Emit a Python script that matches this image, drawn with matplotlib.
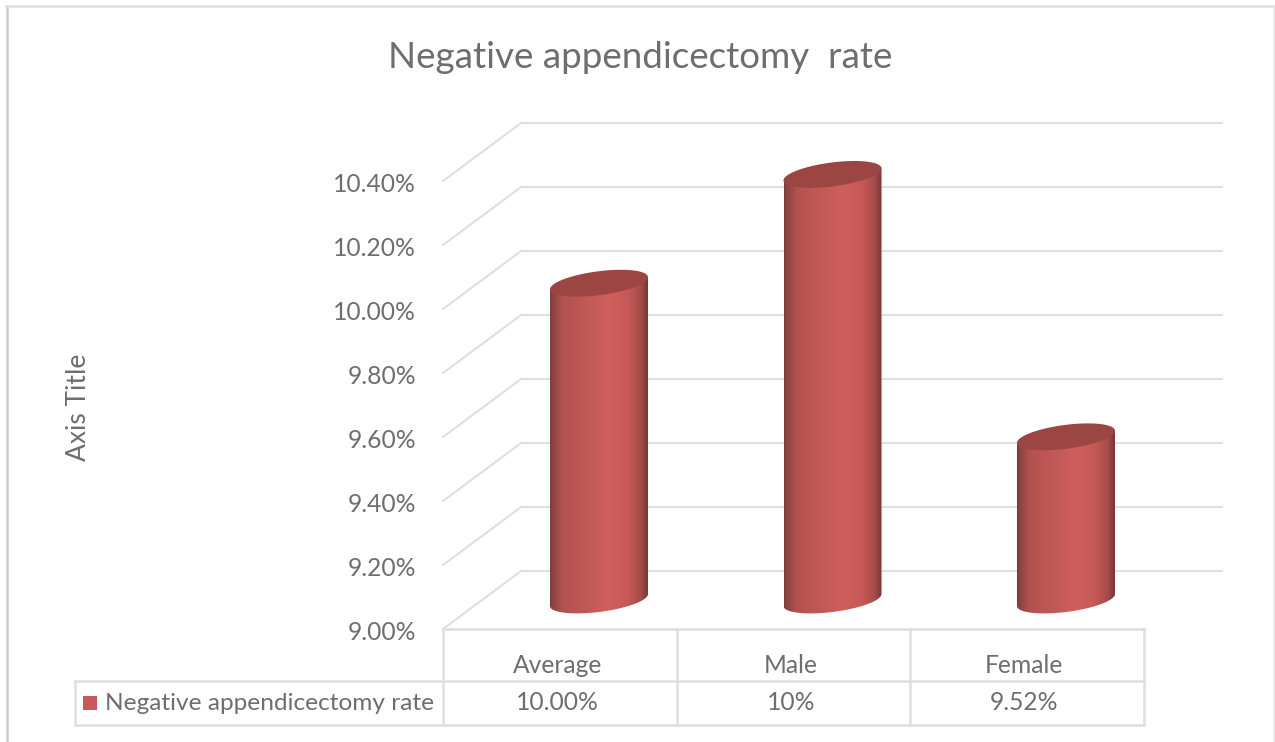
import numpy as np
from matplotlib import pyplot as plt
from matplotlib.colors import LinearSegmentedColormap
from matplotlib.lines import Line2D
from matplotlib.patches import PathPatch, Rectangle
from matplotlib.path import Path

plt.rcParams['font.family'] = ['Lato', 'DejaVu Sans']

title = "Negative appendicectomy  rate"
series_name = "Negative appendicectomy rate"
categories = ["Average", "Male", "Female"]
values = [9.99, 10.33, 9.51]
table_labels = ["10.00%", "10%", "9.52%"]
y_ticks = [9.0, 9.2, 9.4, 9.6, 9.8, 10.0, 10.2, 10.4]
grid_values = [9.0, 9.2, 9.4, 9.6, 9.8, 10.0, 10.2, 10.4]

W, H = 1275, 742
GRID = "#dfdfdf"
TEXT = "#6e6e6e"

# one category = 233.5 px, 0.2 on the value axis = 64 px
PX_X = 1 / 233.5
PX_Y = 0.2 / 64
DX, DY = 39 * PX_X, 29 * PX_Y   # half of the 3d depth

fig = plt.figure(figsize=(W / 100, H / 100), dpi=100, facecolor="white")
ax = fig.add_axes([0, 0, 1, 1])
ax.axis("off")


def set_limits():
    ax.set_xlim(-599 * PX_X, (W - 599) * PX_X)
    ax.set_ylim(9 - (H - 600) * PX_Y, 9 + 600 * PX_Y)


set_limits()

# outer frame, open at the bottom
fig.add_artist(Line2D([7 / W, 7 / W], [0, 1 - 6 / H], color="#cccccc", lw=1.8))
fig.add_artist(Line2D([6 / W, 1274 / W], [1 - 6 / H, 1 - 6 / H], color="#e0e0e0", lw=1.8))
fig.add_artist(Line2D([1274 / W, 1274 / W], [0, 1 - 6 / H], color="#e4e4e4", lw=1.2))

x_left = -0.5 - 0.168
x_right = x_left + 3


def line(xs, ys, lw=1.5):
    ax.plot(xs, ys, color=GRID, lw=lw, solid_capstyle="projecting")


# back wall and side wall gridlines
for v in grid_values:
    line([x_left + 2 * DX, x_right + 2 * DX], [v + DY, v + DY])
    line([x_left, x_left + 2 * DX], [v - DY, v + DY])

# floor front edge
line([x_left, x_right], [9 - DY, 9 - DY], lw=1.8)

# data table
row1 = 9 - DY - 52 * PX_Y
row2 = row1 - 44 * PX_Y
line([x_left - 368 * PX_X, x_right], [row1, row1], lw=1.8)
line([x_left - 368 * PX_X, x_right], [row2, row2], lw=1.8)
line([x_left - 368 * PX_X] * 2, [row1, row2], lw=1.8)
for i in range(4):
    line([x_left + i] * 2, [9 - DY, row2], lw=1.8)

# cylinders
cmap = LinearSegmentedColormap.from_list("cyl", [
    (0.0, "#7a3b39"), (0.03, "#8c4442"), (0.13, "#b35250"), (0.4, "#c25a57"),
    (0.6, "#cf5f5c"), (0.8, "#c65957"), (0.93, "#a54b49"), (1.0, "#743836"),
])
half_w = 49 * PX_X
minor = 12 * PX_Y
tilt = 6 * PX_Y
t = np.linspace(0, 2 * np.pi, 121)
grad = np.linspace(0, 1, 256).reshape(1, -1)

for i, v in enumerate(values):
    ex = i + half_w * np.cos(t)
    top_y = v + minor * np.sin(t) + tilt * np.cos(t)
    base_y = 9 + minor * np.sin(t) + tilt * np.cos(t)

    # body: lower half of the base ellipse, then up to the top ellipse
    lower = (t >= np.pi)
    verts = list(zip(ex[lower], base_y[lower])) + [(i + half_w, v + tilt), (i - half_w, v - tilt)]
    verts.append(verts[0])
    patch = PathPatch(Path(verts, closed=True), fc="none", ec="none")
    ax.add_patch(patch)
    img = ax.imshow(grad, cmap=cmap, aspect="auto", interpolation="bilinear",
                    extent=[i - half_w, i + half_w, 8.9, v + 0.1], zorder=3)
    img.set_clip_path(patch)
    ax.fill(ex, top_y, color="#9b4643", lw=0, zorder=4)

# imshow resets the limits
set_limits()

# value labels sit at the front edge of the side wall
for v in y_ticks:
    ax.text(x_left - 27 * PX_X, v - DY - 4 * PX_Y, f"{v:.2f}%", ha="right", va="center",
            fontsize=17.7, color=TEXT)

row_a = (9 - DY + row1) / 2 - 10 * PX_Y
row_b = (row1 + row2) / 2
for i, (cat, lab) in enumerate(zip(categories, table_labels)):
    ax.text(x_left + i + 0.49, row_a, cat, ha="center", va="center", fontsize=17.7, color=TEXT)
    ax.text(x_left + i + 0.49, row_b, lab, ha="center", va="center", fontsize=17.7, color=TEXT)

# legend key in the table
ax.add_patch(Rectangle((x_left - 360 * PX_X, row_b - 7 * PX_Y), 14 * PX_X, 14 * PX_Y,
                       fc="#c9585a", ec="none"))
ax.text(x_left - 338 * PX_X, row_b, series_name, ha="left", va="center",
        fontsize=17.6, color=TEXT)

fig.text(640 / W, 1 - 58 / H, title, ha="center", va="center", fontsize=26.5, color=TEXT)
fig.text(78 / W, 1 - 407 / H, "Axis Title", ha="center", va="center", rotation=90,
         fontsize=19, color=TEXT)

fig.savefig("out.png", dpi=100)
